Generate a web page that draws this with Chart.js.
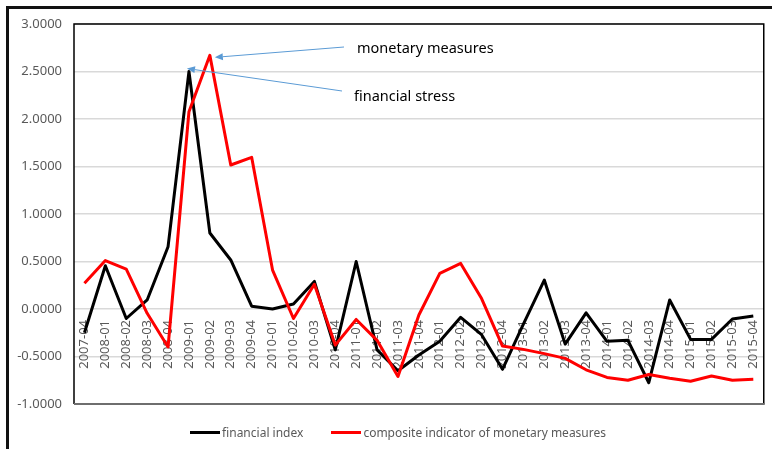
<!DOCTYPE html>
<html><head><meta charset="utf-8">
<script src="https://cdn.jsdelivr.net/npm/chart.js@4"></script>
<style>
html,body{margin:0;padding:0;background:#fff;width:772px;height:449px;overflow:hidden;}
#wrap{position:relative;width:772px;height:449px;}
#frame{position:absolute;left:6px;top:6px;width:820px;height:520px;border-left:3px solid #111;border-top:3px solid #111;box-sizing:border-box;}
#c{position:absolute;left:0;top:0;}
#legend{position:absolute;top:424px;left:190px;font:12px "Noto Sans";color:#595959;display:flex;align-items:center;white-space:nowrap;}
#legend .ln{display:inline-block;width:30px;height:3px;margin-right:2px;}
#legend .it{display:flex;align-items:center;}
</style>
</head><body>
<div id="wrap">
<div id="frame"></div>
<canvas id="c" width="772" height="449"></canvas>
<div id="legend">
  <span class="it"><span class="ln" style="background:#000"></span><span id="l1">financial index</span></span>
  <span class="it" style="margin-left:28px"><span class="ln" style="background:#ff0000"></span><span id="l2">composite indicator of monetary measures</span></span>
</div>
</div>
<script>
const categories = ["2007-04","2008-01","2008-02","2008-03","2008-04","2009-01","2009-02","2009-03","2009-04",
  "2010-01","2010-02","2010-03","2010-04","2011-01","2011-02","2011-03","2011-04",
  "2012-01","2012-02","2012-03","2012-04","2013-01","2013-02","2013-03","2013-04",
  "2014-01","2014-02","2014-03","2014-04","2015-01","2015-02","2015-03","2015-04"];
const financialIndex = [-0.25,0.456,-0.10,0.095,0.656,2.50,0.80,0.516,0.03,
  0.0,0.053,0.29,-0.43,0.50,-0.43,-0.65,-0.485,
  -0.34,-0.088,-0.27,-0.635,-0.16,0.305,-0.37,-0.04,
  -0.34,-0.33,-0.776,0.095,-0.32,-0.32,-0.105,-0.074];
const monetaryMeasures = [0.27,0.51,0.42,-0.045,-0.40,2.077,2.67,1.516,1.597,
  0.41,-0.10,0.26,-0.38,-0.11,-0.33,-0.71,-0.063,
  0.375,0.48,0.11,-0.39,-0.425,-0.47,-0.52,-0.64,
  -0.72,-0.75,-0.69,-0.73,-0.76,-0.705,-0.75,-0.74];
const yTicks = [-1,-0.5,0,0.5,1,1.5,2,2.5,3];
const seriesNames = ["financial index","composite indicator of monetary measures"];
const annotationTexts = ["monetary measures","financial stress"];

const FONT = "Noto Sans";

const framePlugin = {
  id:'frame',
  beforeDatasetsDraw(chart){
    const {ctx, chartArea:a} = chart;
    ctx.save();
    ctx.strokeStyle = '#000';
    ctx.lineWidth = 1.5;
    ctx.beginPath();
    ctx.moveTo(a.left, a.bottom);
    ctx.lineTo(a.left, a.top);
    ctx.lineTo(a.right, a.top);
    ctx.lineTo(a.right, a.bottom);
    ctx.stroke();
    ctx.strokeStyle = '#6e6e6e';
    ctx.lineWidth = 2;
    ctx.beginPath();
    ctx.moveTo(a.left, a.bottom);
    ctx.lineTo(a.right+1, a.bottom);
    ctx.stroke();
    ctx.restore();
  }
};

function arrow(ctx, x1, y1, x2, y2){
  const ang = Math.atan2(y2-y1, x2-x1);
  const L = 8, W = 3.5;
  const bx = x2 - L*Math.cos(ang), by = y2 - L*Math.sin(ang);
  ctx.beginPath();
  ctx.moveTo(x1,y1); ctx.lineTo(bx,by); ctx.stroke();
  ctx.beginPath();
  ctx.moveTo(x2,y2);
  ctx.lineTo(bx + W*Math.sin(ang), by - W*Math.cos(ang));
  ctx.lineTo(bx - W*Math.sin(ang), by + W*Math.cos(ang));
  ctx.closePath(); ctx.fill();
}

const annotPlugin = {
  id:'annot',
  afterDatasetsDraw(chart){
    const {ctx} = chart;
    const xs = chart.scales.x, ys = chart.scales.y;
    const ri = monetaryMeasures.indexOf(Math.max(...monetaryMeasures));
    const bi = financialIndex.indexOf(Math.max(...financialIndex));
    const rTip = {x: xs.getPixelForValue(ri)+5, y: ys.getPixelForValue(monetaryMeasures[ri])+2};
    const bTip = {x: xs.getPixelForValue(bi)-2, y: ys.getPixelForValue(financialIndex[bi])-3};
    ctx.save();
    ctx.strokeStyle = '#5b9bd5';
    ctx.fillStyle = '#5b9bd5';
    ctx.lineWidth = 1;
    arrow(ctx, 344, 47, rTip.x, rTip.y);
    arrow(ctx, 342, 91, bTip.x, bTip.y);
    ctx.fillStyle = '#000';
    ctx.font = '14.5px "' + FONT + '"';
    ctx.textBaseline = 'middle';
    ctx.textAlign = 'left';
    ctx.fillText(annotationTexts[0], 357, 49);
    ctx.fillText(annotationTexts[1], 354, 97);
    ctx.restore();
  }
};

new Chart(document.getElementById('c'), {
  type:'line',
  data:{
    labels: categories,
    datasets:[
      {label: seriesNames[0], data: financialIndex, borderColor:'#000', backgroundColor:'#000', borderWidth:3, pointRadius:0, tension:0, borderJoinStyle:'round', order:1},
      {label: seriesNames[1], data: monetaryMeasures, borderColor:'#ff0000', backgroundColor:'#ff0000', borderWidth:3, pointRadius:0, tension:0, borderJoinStyle:'round', order:0}
    ]
  },
  options:{
    responsive:false, animation:false,
    layout:{padding:{left:0, top:24, right:6, bottom:45}},
    plugins:{legend:{display:false}, tooltip:{enabled:false}, title:{display:false}},
    scales:{
      x:{type:'category', position:{y:0}, offset:true,
         grid:{display:false}, border:{display:false},
         ticks:{autoSkip:false, minRotation:90, maxRotation:90, color:'#595959', font:{family:FONT, size:13}, padding:3}},
      y:{min:-1, max:3,
         afterBuildTicks(s){ s.ticks = yTicks.map(v=>({value:v})); },
         afterFit(s){ s.width = 74; },
         ticks:{callback:v=>Number(v).toFixed(4), color:'#595959', font:{family:FONT, size:13}, padding:12},
         grid:{color:'#d9d9d9', lineWidth:1.5, drawTicks:false},
         border:{display:false}}
    }
  },
  plugins:[framePlugin, annotPlugin]
});
</script>
</body></html>
